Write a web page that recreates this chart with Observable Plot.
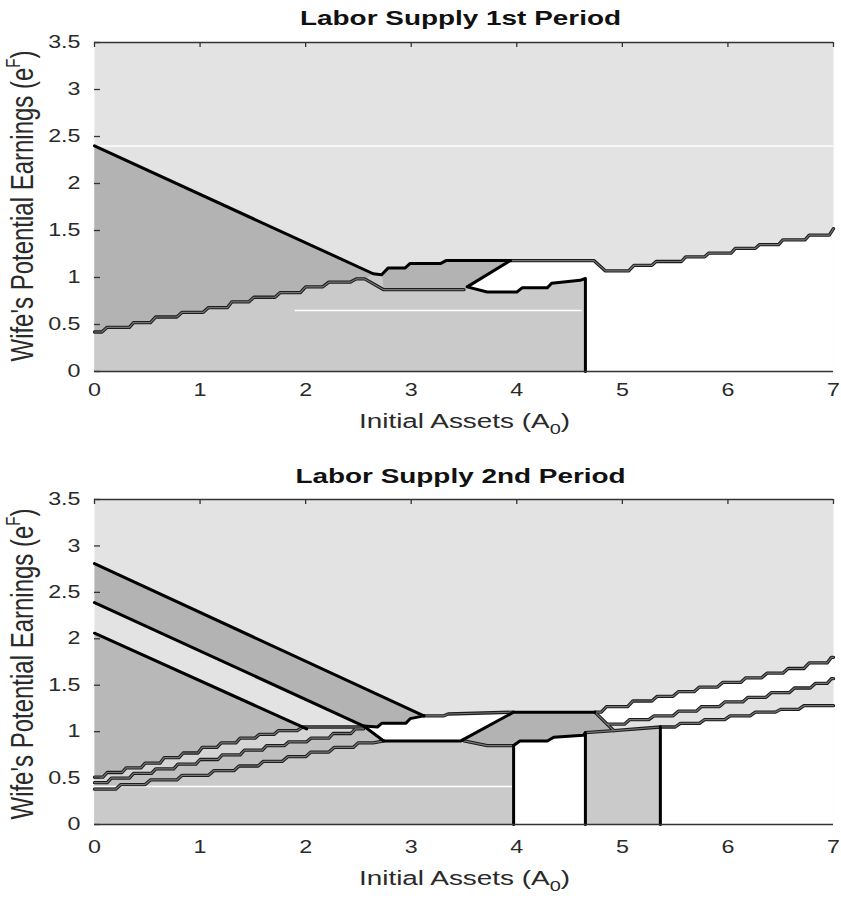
<!DOCTYPE html>
<html><head><meta charset="utf-8">
<script src="https://cdn.jsdelivr.net/npm/d3@7"></script>
<script src="https://cdn.jsdelivr.net/npm/@observablehq/plot@0.6"></script>
<style>
html,body{margin:0;padding:0;background:#fff;}
#chart{width:841px;height:898px;}
#chart svg{display:block;}
</style></head><body><div id="chart"></div>
<script>
// ---------- axes / text ----------
const xTicks = [0, 1, 2, 3, 4, 5, 6, 7];
const yTicks = [0, 0.5, 1, 1.5, 2, 2.5, 3, 3.5];
const titles = ["Labor Supply 1st Period", "Labor Supply 2nd Period"];
const xLabelParts = ["Initial Assets (A", "0", ")"];
const yLabelParts = ["Wife's Potential Earnings (e", "F", ")"];

// ---------- Panel 1 boundaries (x = assets, y = earnings) ----------
const p1Upper = [[0,2.40],[2.64,1.04],[2.72,1.03],[2.78,1.10],[2.94,1.10],[2.99,1.15],[3.28,1.15],[3.33,1.18],[3.94,1.18]];
const p1Pocket = [[3.94,1.18],[3.53,0.90],[3.72,0.845],[4.00,0.845],[4.05,0.89],[4.29,0.89],[4.33,0.94],[4.60,0.97],[4.65,0.99],[4.65,0]];
// stair lines given as flat runs [xStart, xEnd, y]
const p1UpperRuns = [[3.94,4.73,1.18],[4.84,5.06,1.07],[5.11,5.28,1.13],[5.32,5.56,1.17],[5.60,5.78,1.22],[5.82,6.03,1.26],[6.07,6.26,1.31],[6.30,6.48,1.35],[6.52,6.73,1.40],[6.77,6.96,1.45],[7.0,7.0,1.52]];
const p1RiseRuns = [[0,0.07,0.42],[0.12,0.33,0.47],[0.37,0.53,0.52],[0.58,0.78,0.58],[0.83,1.03,0.63],[1.08,1.26,0.68],[1.30,1.46,0.74],[1.51,1.71,0.79],[1.76,1.95,0.84],[2.00,2.16,0.90],[2.22,2.42,0.95],[2.48,2.56,0.985],[2.74,3.50,0.87]];
const p1WhiteStreaks = [[2.40,0,7],[0.65,1.9,4.62]]; // [y, x1, x2]

// ---------- Panel 2 boundaries ----------
const p2L1 = [[0,2.81],[3.12,1.17]];
const p2L2 = [[0,2.39],[2.55,1.06],[2.74,0.90],[3.47,0.90],[3.97,1.21],[4.74,1.21]];
const p2L3 = [[0,2.06],[2.01,1.03]];
const p2BandBottom = [[2.55,1.06],[2.68,1.05],[2.72,1.09],[2.95,1.09],[2.99,1.14],[3.12,1.17]];
const p2UpperFlat = [[3.12,1.17],[3.31,1.17],[3.35,1.19],[3.97,1.21]];
const p2ParaLeftBottom = [[3.50,0.90],[3.72,0.85],[3.97,0.85]];
const p2ParaRight = [[4.74,1.21],[4.92,1.01],[5.36,1.05]];
const p2ParaRightBottom = [[4.65,0.99],[4.92,1.01]];
const p2GapEdge = [[3.97,0],[3.97,0.85],[4.03,0.90],[4.29,0.90],[4.35,0.94],[4.63,0.96],[4.65,0.99],[4.65,0]];
const p2Vertical = [[5.36,1.05],[5.36,0]];
const p2R1Runs = [[0,0.08,0.51],[0.12,0.26,0.56],[0.30,0.44,0.61],[0.48,0.62,0.66],[0.66,0.80,0.72],[0.84,0.98,0.77],[1.02,1.16,0.83],[1.20,1.34,0.88],[1.38,1.52,0.93],[1.56,1.70,0.97],[1.74,1.92,1.01],[1.97,2.55,1.05]];
const p2R2Runs = [[0,0.12,0.45],[0.16,0.33,0.50],[0.37,0.54,0.55],[0.58,0.75,0.60],[0.79,0.96,0.65],[1.00,1.17,0.70],[1.21,1.38,0.75],[1.42,1.59,0.80],[1.63,1.80,0.85],[1.84,2.01,0.89],[2.05,2.22,0.93],[2.26,2.43,0.98],[2.47,2.55,1.03]];
const p2R3Runs = [[0,0.20,0.38],[0.25,0.48,0.43],[0.53,0.78,0.48],[0.83,1.08,0.53],[1.13,1.32,0.58],[1.37,1.55,0.63],[1.60,1.78,0.68],[1.83,2.00,0.73],[2.05,2.22,0.78],[2.27,2.45,0.83],[2.50,2.64,0.88],[2.74,2.74,0.90]];
const p2STopRuns = [[4.74,4.80,1.21],[4.85,5.05,1.27],[5.10,5.28,1.33],[5.33,5.48,1.38],[5.53,5.68,1.43],[5.73,5.90,1.48],[5.95,6.12,1.53],[6.17,6.32,1.58],[6.37,6.52,1.63],[6.57,6.72,1.68],[6.77,6.94,1.74],[6.98,7.0,1.80]];
const p2SMidRuns = [[4.86,5.02,1.08],[5.07,5.25,1.13],[5.30,5.48,1.17],[5.53,5.70,1.22],[5.75,5.92,1.27],[5.97,6.14,1.32],[6.19,6.36,1.37],[6.41,6.58,1.42],[6.63,6.78,1.47],[6.83,6.94,1.52],[6.98,7.0,1.57]];
const p2SBotRuns = [[5.36,5.50,1.05],[5.55,5.73,1.09],[5.78,5.97,1.13],[6.02,6.21,1.17],[6.26,6.45,1.21],[6.50,6.67,1.24],[6.72,7.0,1.28]];
const p2WhiteStreaks = [[0.41,0,3.97]];

// ---------- palette ----------
const LIGHT = "#e3e3e3", DARK = "#b3b3b3", MID = "#cacaca", WHITE = "#ffffff";

const pts = runs => runs.flatMap(([a, b, y]) => [[a, y], [b, y]]);
const rev = a => a.slice().reverse();

// ---------- Panel 1 regions ----------
const p1Polys = [
  [[[0,0], ...p1Upper, ...pts(p1UpperRuns), [7,0]], WHITE],
  [[[0,0], ...p1Upper.slice(0,3), [2.74,0.87], [3.50,0.87], ...p1Pocket.slice(1)], MID],
  [[...p1Upper.slice(0,2), ...rev(pts(p1RiseRuns.slice(0,-1)))], DARK],
  [[...p1Upper.slice(2), [3.53,0.90], [3.50,0.87], [2.74,0.87]], DARK]
];
const p1Black = [p1Upper, p1Pocket];
const p1Gray = [pts(p1RiseRuns), pts(p1UpperRuns)];

// ---------- Panel 2 regions ----------
const R1 = pts(p2R1Runs), R2 = pts(p2R2Runs), R3 = pts(p2R3Runs);
const ST = pts(p2STopRuns), SM = pts(p2SMidRuns), SB = pts(p2SBotRuns);
const p2Polys = [
  [[[0,0], ...R3, ...p2ParaLeftBottom, [3.97,0]], MID],
  [[...R3, [2.55,1.06], ...rev(R2)], "#c0c0c0"],
  [[...R2, ...rev(R1)], "#d5d5d5"],
  [[...p2L3, ...rev(pts(p2R1Runs.slice(0,-1)))], "#b8b8b8"],
  [[...p2L1, ...rev(p2BandBottom), [0,2.39]], DARK],
  [[...p2BandBottom, ...p2UpperFlat.slice(1), [3.47,0.90], [2.74,0.90]], WHITE],
  [[[3.47,0.90], [3.97,1.21], [4.74,1.21], [4.92,1.01], ...rev(p2GapEdge.slice(1,-1)), ...rev(p2ParaLeftBottom)], DARK],
  [p2GapEdge, WHITE],
  [[[4.65,0], [4.65,0.99], [4.92,1.01], [5.36,1.05], [5.36,0]], MID],
  [[[5.36,0], ...SB, [7,0]], WHITE],
  [[...ST, ...rev(SM)], WHITE]
];
const p2Black = [p2L1, p2L2, p2L3, p2BandBottom, p2GapEdge, p2Vertical];
const p2Gray = [R1, R2, R3, ST, SM, SB, p2UpperFlat, p2ParaLeftBottom, p2ParaRight, p2ParaRightBottom];

const W = 841, H = 449, ML = 94, MR = 8;
const STRETCH = 1.33;

function panel({polys, black, gray, streaks, marginTop, marginBottom, tickPad, title, titleY, xLabY, yLabCy}) {
  const frameW = W - ML - MR, frameH = H - marginTop - marginBottom;
  const XY = {x: d => d[0], y: d => d[1]};
  const svg = Plot.plot({
    width: W, height: H,
    marginLeft: ML, marginRight: MR, marginTop, marginBottom,
    x: {domain: [0, 7], label: null},
    y: {domain: [0, 3.5], label: null},
    style: {fontFamily: "'Liberation Sans', Arial, sans-serif", fontSize: "17.5px", color: "#2a2a2a", background: "#fff"},
    marks: [
      Plot.frame({fill: LIGHT, stroke: "none"}),
      ...polys.map(([p, c]) => Plot.line(p, {...XY, fill: c, stroke: c, strokeWidth: 0.6})),
      Plot.ruleY(streaks, {y: d => d[0], x1: d => d[1], x2: d => d[2], stroke: "#fff", strokeWidth: 1.5}),
      ...gray.map(p => Plot.line(p, {...XY, stroke: "#1c1c1c", strokeWidth: 3.3, strokeLinejoin: "round"})),
      ...gray.map(p => Plot.line(p, {...XY, stroke: "#767676", strokeWidth: 1.2, strokeLinejoin: "round"})),
      ...black.map(p => Plot.line(p, {...XY, stroke: "#000", strokeWidth: 3, strokeLinejoin: "round"})),
      Plot.ruleY([3.5], {stroke: "#333", strokeWidth: 1.3}),
      Plot.ruleY([0], {stroke: "#333", strokeWidth: 1.3}),
      Plot.tickX(xTicks, {x: d => d, insetBottom: frameH - 5, stroke: "#333", strokeWidth: 1.3}),
      Plot.tickY(yTicks, {y: d => d, insetRight: frameW - 6, stroke: "#333", strokeWidth: 1.3}),
      Plot.axisX({ticks: xTicks, tickSize: 0, tickPadding: tickPad, tickFormat: d => String(d), label: null}),
      Plot.axisY({ticks: yTicks, tickSize: 0, tickPadding: 14, tickFormat: d => String(d), label: null})
    ]
  });
  const s = d3.select(svg);
  // horizontal stretch of the tick labels, as in the reference raster
  s.selectAll("text").each(function() {
    const x0 = +(this.getAttribute("x") || 0);
    const t = this.getAttribute("transform") || "";
    this.setAttribute("transform", `${t} translate(${x0},0) scale(${STRETCH},1) translate(${-x0},0)`);
  });
  const cx = ML + frameW / 2;
  s.append("text").attr("transform", `translate(${cx - 3},${titleY}) scale(${STRETCH},1)`)
    .attr("text-anchor", "middle").attr("font-weight", "bold").attr("font-size", 21).attr("fill", "#111").text(title);
  const xl = s.append("text").attr("transform", `translate(${cx + 1},${xLabY}) scale(${STRETCH},1)`)
    .attr("text-anchor", "middle").attr("font-size", 21).attr("fill", "#2a2a2a");
  xl.append("tspan").text(xLabelParts[0]);
  xl.append("tspan").attr("font-size", 15).attr("dy", 6).text(xLabelParts[1]);
  xl.append("tspan").attr("dy", -6).text(xLabelParts[2]);
  const yl = s.append("text").attr("transform", `translate(33,${yLabCy}) rotate(-90) scale(1,${STRETCH})`)
    .attr("text-anchor", "middle").attr("font-size", 24).attr("fill", "#2a2a2a");
  yl.append("tspan").text(yLabelParts[0]);
  yl.append("tspan").attr("font-size", 15).attr("dy", -10).text(yLabelParts[1]);
  yl.append("tspan").attr("dy", 10).text(yLabelParts[2]);
  return svg;
}

const root = document.getElementById("chart");
root.appendChild(panel({polys: p1Polys, black: p1Black, gray: p1Gray, streaks: p1WhiteStreaks,
  marginTop: 42, marginBottom: 78, tickPad: 12, title: titles[0], titleY: 25, xLabY: 428, yLabCy: 206}));
root.appendChild(panel({polys: p2Polys, black: p2Black, gray: p2Gray, streaks: p2WhiteStreaks,
  marginTop: 50, marginBottom: 74, tickPad: 16, title: titles[1], titleY: 34, xLabY: 436, yLabCy: 215}));
</script>
</body></html>
